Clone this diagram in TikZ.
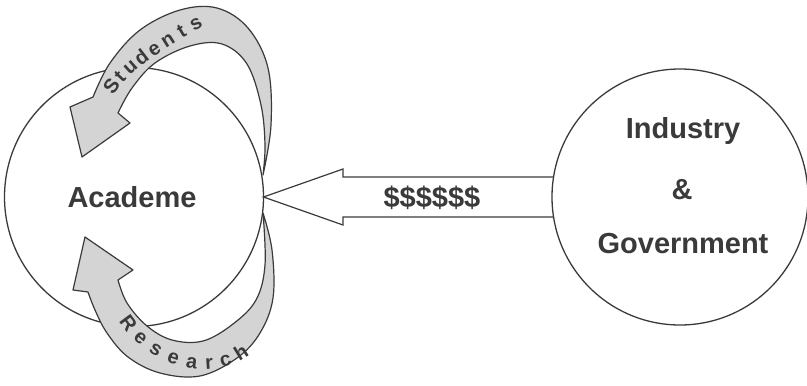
\documentclass[tikz,border=0pt]{standalone}
\usepackage{fontspec}
\setmainfont{Liberation Sans}
\definecolor{ink}{HTML}{3A3A3A}
\definecolor{bandgray}{HTML}{D4D4D4}
\begin{document}
\begin{tikzpicture}[x=1pt,y=-1pt,
  bigcircle/.style={circle,draw=ink,line width=1.3pt,inner sep=0pt,outer sep=0pt,minimum size=#1},
  lbl/.style={text=ink,font=\bfseries\fontsize{29}{34}\selectfont,inner sep=0pt},
  band/.style={fill=bandgray,draw=ink,line width=1.2pt,line join=round},
  outline/.style={draw=ink,line width=1.2pt,line join=miter},
  letter/.style={sloped,anchor=base,inner sep=0pt,text=ink,font=\bfseries\fontsize{20}{24}\selectfont}]
\useasboundingbox (0,0) rectangle (807,386);
% circles
\node[bigcircle=259pt] (aca) at (134,197) {};
\node[lbl] (acatext) at (132,197) {Academe};
\node[bigcircle=256pt] (ind) at (680,197) {};
\node[lbl] (indtext) at (683,131) {Industry};
\node[lbl] (amp) at (682,190) {\&};
\node[lbl] (gov) at (683,244) {Government};
% money arrow
\draw[outline] (ind.171) -- (343,177) -- (343,169) -- (aca.east) -- (343,225) -- (343,217) -- (ind.189);
\node[lbl] (money) at (432,198) {\$\$\$\$\$\$};
% students band
\filldraw[band] plot[smooth,tension=0.6] coordinates {(263,175) (271,125) (268,68) (248,28) (217,8) (180,10) (140,30) (110,63) (93,97)}
  -- (70,107) -- (82,157) -- (130,123) -- (118,113)
  -- plot[smooth,tension=0.6] coordinates {(118,113) (132,88) (155,63) (190,46) (222,44) (247,64) (261,105) (265,145) (263,175)} -- cycle;
\begin{scope}[shift={(114,95)}]
\path (0,0) .. controls (15,-25) and (55,-50) .. (92,-70)
  node[letter,pos=0.06] (s1) {S}
  node[letter,pos=0.185] (s2) {t}
  node[letter,pos=0.31] (s3) {u}
  node[letter,pos=0.435] (s4) {d}
  node[letter,pos=0.56] (s5) {e}
  node[letter,pos=0.685] (s6) {n}
  node[letter,pos=0.81] (s7) {t}
  node[letter,pos=0.935] (s8) {s};
\end{scope}
% research band
\filldraw[band] plot[smooth,tension=0.6] coordinates {(263,213) (272,250) (273,298) (260,333) (237,358) (200,376) (160,373) (128,357) (107,333) (95,310) (88,292)}
  -- (73,290) -- (85,237) -- (133,270) -- (118,280)
  -- plot[smooth,tension=0.6] coordinates {(118,280) (127,303) (147,326) (172,340) (203,341) (233,324) (256,300) (265,265) (263,213)} -- cycle;
\begin{scope}[shift={(118,320)}]
\path (0,0) .. controls (25,42) and (90,68) .. (135,32)
  node[letter,pos=0.06] (r1) {R}
  node[letter,pos=0.195] (r2) {e}
  node[letter,pos=0.325] (r3) {s}
  node[letter,pos=0.455] (r4) {e}
  node[letter,pos=0.585] (r5) {a}
  node[letter,pos=0.705] (r6) {r}
  node[letter,pos=0.82] (r7) {c}
  node[letter,pos=0.94] (r8) {h};
\end{scope}
\end{tikzpicture}
\end{document}
